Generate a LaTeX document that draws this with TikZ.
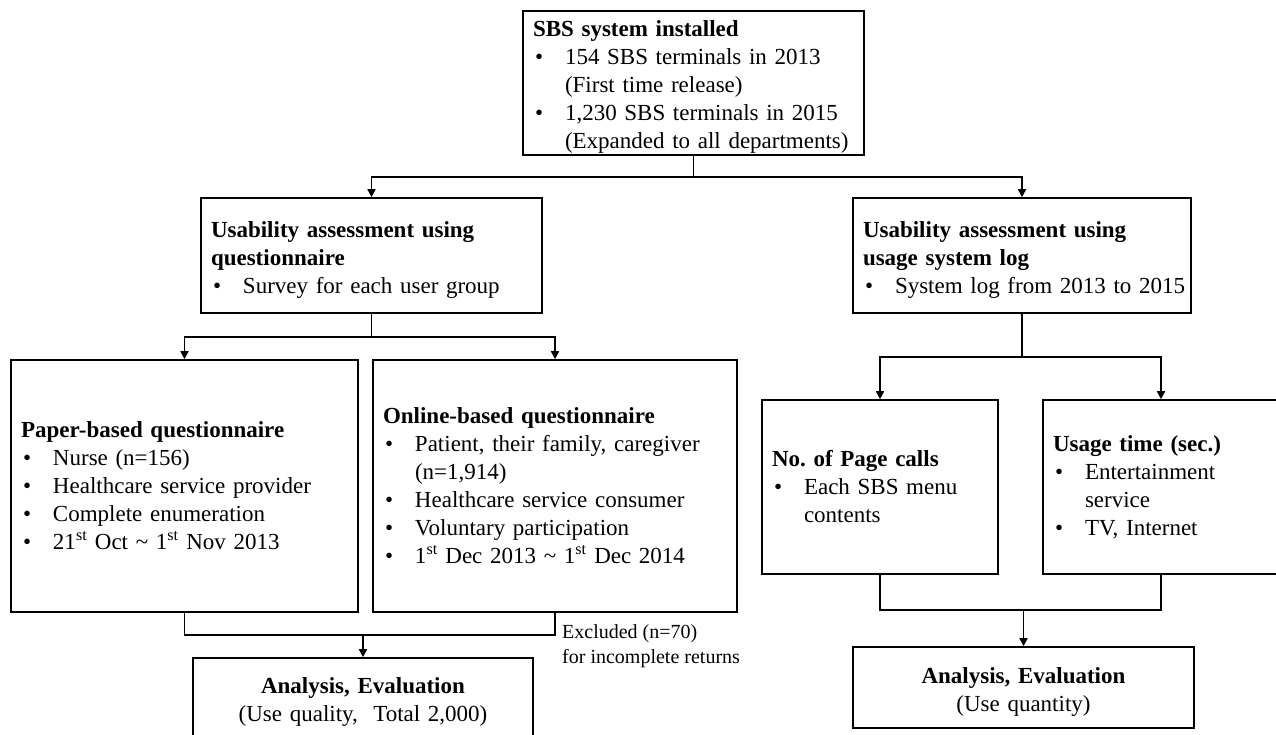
\documentclass[tikz,border=0pt]{standalone}
\usepackage{fontspec}
\setmainfont{Liberation Serif}
\usetikzlibrary{arrows.meta}
\setlength{\parindent}{0pt}
\frenchspacing
\newcommand{\bitem}[1]{\par\noindent\hangindent=32pt\hangafter=1\makebox[32pt][l]{\hspace{2pt}\textbullet}#1\par}
\newcommand{\ttl}[1]{{\bfseries #1}\par}
\newcommand{\gap}[1]{\rule{0pt}{#1}}
\tikzset{
  box/.style={draw, line width=1.6pt, inner xsep=10pt, inner ysep=0pt, align=left,
    font=\fontsize{23}{28}\selectfont\frenchspacing},
  cbox/.style={box, align=center},
  conn/.style={line width=1.6pt},
  arr/.style={conn, -{Triangle[length=8pt,width=8pt]}},
  note/.style={inner sep=0pt, align=left, font=\fontsize{20}{25}\selectfont}
}
\begin{document}
\begin{tikzpicture}[x=1pt,y=-1pt]
\useasboundingbox (0,0) rectangle (1276,735);
\clip (0,0) rectangle (1276,735);

\node[box, text width=321pt, minimum height=144pt] (top) at (693.5,83)
  {\ttl{\gap{24pt}SBS system installed}
   \bitem{154 SBS terminals in 2013\newline (First time release)}
   \bitem{1,230 SBS terminals in 2015\newline (Expanded to all departments)}};

\node[box, text width=321pt, minimum height=115pt] (qa) at (371.5,255.5)
  {\ttl{\gap{24pt}Usability assessment using\newline questionnaire}
   \bitem{Survey for each user group}};

\node[box, text width=318pt, minimum height=115pt] (log) at (1022,255.5)
  {\ttl{\gap{24pt}Usability assessment using\newline usage system log}
   \bitem{\mbox{System log from 2013 to 2015}}};

\node[box, text width=327pt, minimum height=252pt] (paper) at (184.5,486)
  {\ttl{Paper-based questionnaire}
   \bitem{Nurse (n=156)}
   \bitem{Healthcare service provider}
   \bitem{Complete enumeration}
   \bitem{21\textsuperscript{st} Oct \textasciitilde{} 1\textsuperscript{st} Nov 2013}};

\node[box, text width=344pt, minimum height=252pt] (online) at (555,486)
  {\ttl{Online-based questionnaire}
   \bitem{Patient, their family, caregiver\newline (n=1,914)}
   \bitem{Healthcare service consumer}
   \bitem{Voluntary participation}
   \bitem{1\textsuperscript{st} Dec 2013 \textasciitilde{} 1\textsuperscript{st} Dec 2014}};

\node[box, text width=216pt, minimum height=174pt] (pc) at (880,487)
  {\ttl{No. of Page calls}
   \bitem{Each SBS menu\newline contents}};

\node[box, text width=216pt, minimum height=174pt] (ut) at (1161,487)
  {\ttl{Usage time (sec.)}
   \bitem{Entertainment\newline service}
   \bitem{TV, Internet}};

\node[cbox, text width=320pt, minimum height=81pt] (anL) at (363,698.5)
  {\gap{22pt}{\bfseries Analysis, Evaluation}\\(Use quality,\ \ Total 2,000)};

\node[cbox, text width=321pt, minimum height=81pt] (anR) at (1023.5,687.5)
  {\gap{24pt}{\bfseries Analysis, Evaluation}\\(Use quantity)};

\node[note, anchor=north west] (exc) at (562,624)
  {Excluded (n=70)\\for incomplete returns};

\coordinate (j1) at (693.5,177);
\coordinate (j2) at (371.5,337);
\coordinate (j3) at (363,635);
\coordinate (j4) at (1022,357);
\coordinate (j5) at (1023.5,610);

\draw[conn] (top.south) -- (j1);
\draw[arr] (j1) -| (qa.north);
\draw[arr] (j1) -| (log.north);

\draw[conn] (qa.south) -- (j2);
\draw[arr] (j2) -| (paper.north);
\draw[arr] (j2) -| (online.north);

\draw[conn] (paper.south) |- (j3) -| (online.south);
\draw[arr] (j3) -- (anL.north);

\draw[conn] (log.south) -- (j4);
\draw[arr] (j4) -| (pc.north);
\draw[arr] (j4) -| (ut.north);

\draw[conn] (pc.south) |- (j5) -| (ut.south);
\draw[arr] (j5) -- (anR.north);
\end{tikzpicture}
\end{document}
